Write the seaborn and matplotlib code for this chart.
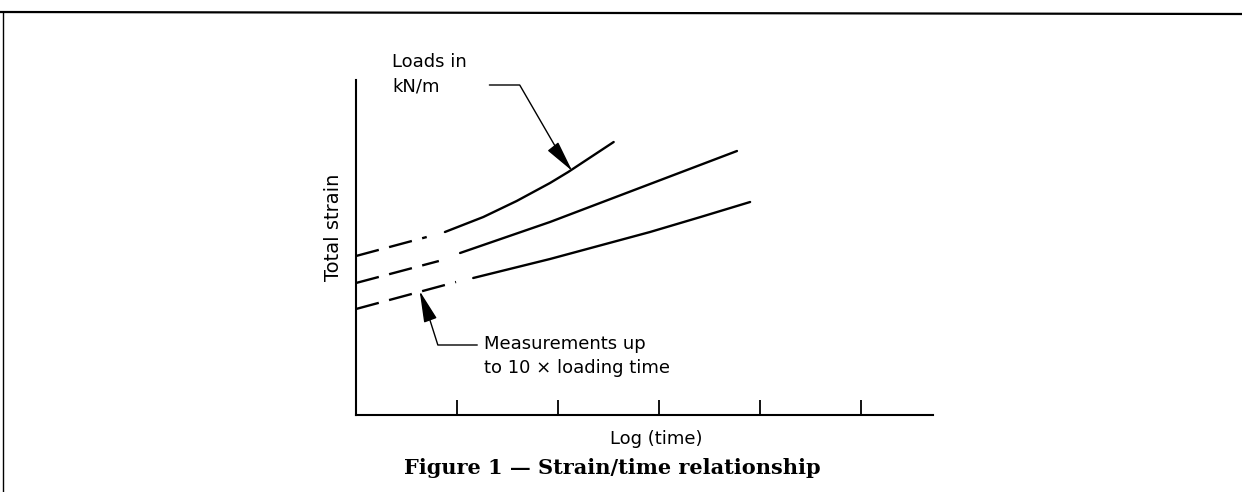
import matplotlib
matplotlib.use("Agg")
import matplotlib.pyplot as plt
from matplotlib.lines import Line2D
import seaborn as sns
import pandas as pd

# curve readings (x = log time in tick units, y = total strain, arbitrary units)
top_dash_x = [0.0, 0.70]
top_dash_y = [1.59, 1.78]
top_x = [0.88, 1.26, 1.59, 1.92, 2.10, 2.55]
top_y = [1.83, 1.98, 2.14, 2.32, 2.43, 2.73]

mid_dash_x = [0.0, 0.82]
mid_dash_y = [1.32, 1.54]
mid_x = [1.03, 1.92, 2.91, 3.77]
mid_y = [1.62, 1.93, 2.31, 2.64]

low_dash_x = [0.0, 0.99]
low_dash_y = [1.06, 1.33]
low_x = [1.16, 1.92, 2.91, 3.41, 3.90]
low_y = [1.37, 1.56, 1.83, 1.98, 2.13]

tick_pos = [1, 2, 3, 4, 5]

sns.set_theme(style="white")
plt.rcParams["font.family"] = ["DejaVu Sans"]
plt.rcParams["text.color"] = "black"
plt.rcParams["axes.labelcolor"] = "black"

fig = plt.figure(figsize=(12.42, 4.92), dpi=100)
ax = fig.add_axes([356 / 1242, 77 / 492, 577 / 1242, 335 / 492])

dash = (0, (10, 4.5))
for xs, ys, ls in [(top_dash_x, top_dash_y, dash), (top_x, top_y, "-"),
                   (mid_dash_x, mid_dash_y, dash), (mid_x, mid_y, "-"),
                   (low_dash_x, low_dash_y, dash), (low_x, low_y, "-")]:
    d = pd.DataFrame({"x": xs, "y": ys})
    sns.lineplot(data=d, x="x", y="y", ax=ax, color="black", lw=1.7,
                 linestyle=ls, sort=False)

ax.set_xlim(0, 5.71)
ax.set_ylim(0, 3.35)
for s in ["top", "right"]:
    ax.spines[s].set_visible(False)
for s in ["left", "bottom"]:
    ax.spines[s].set_color("black")
    ax.spines[s].set_linewidth(1.5)

ax.set_xticks(tick_pos)
ax.set_xticklabels([])
ax.set_yticks([])
ax.tick_params(axis="x", direction="in", length=11, width=1.3, color="black", bottom=True)

ax.set_xlabel("Log (time)", fontsize=13)
ax.xaxis.set_label_coords(0.52, -0.045)
ax.set_ylabel("Total strain", fontsize=14)
ax.yaxis.set_label_coords(-0.022, 0.56)

# annotations
ax.text(0.36, 3.41, "Loads in\nkN/m", fontsize=13, va="center", ha="left",
        linespacing=1.45)
ax.plot([1.32, 1.62, 2.05], [3.30, 3.30, 2.55], color="black", lw=1.0, clip_on=False)
ax.annotate("", xy=(2.14, 2.44), xytext=(2.0, 2.62),
            arrowprops=dict(arrowstyle="-|>,head_length=1.4,head_width=0.3",
                            color="black", lw=1.0, mutation_scale=14,
                            shrinkA=0, shrinkB=0))

ax.text(1.27, 0.59, "Measurements up\nto 10 \u00d7 loading time", fontsize=13,
        va="center", ha="left", linespacing=1.4)
ax.plot([1.20, 0.81, 0.70], [0.70, 0.70, 1.05], color="black", lw=1.0)
ax.annotate("", xy=(0.63, 1.24), xytext=(0.71, 1.02),
            arrowprops=dict(arrowstyle="-|>,head_length=1.4,head_width=0.3",
                            color="black", lw=1.0, mutation_scale=14,
                            shrinkA=0, shrinkB=0))

fig.text(612 / 1242, 1 - 468 / 492, "Figure 1 \u2014 Strain/time relationship",
         family="DejaVu Serif", fontweight="bold", fontsize=15, ha="center", va="center")

# page frame
fig.add_artist(Line2D([0, 1], [1 - 12 / 492, 1 - 14 / 492], color="black", lw=1.6))
fig.add_artist(Line2D([3 / 1242, 3 / 1242], [0, 1 - 12 / 492], color="black", lw=1.0))

fig.savefig("out.png", dpi=100)
